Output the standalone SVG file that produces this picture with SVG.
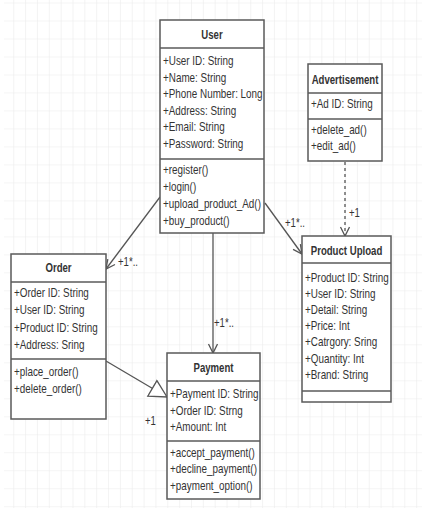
<svg xmlns="http://www.w3.org/2000/svg" width="445" height="508" viewBox="0 0 445 508">
<style>
.box{fill:#fff;stroke:#5a5a5a;stroke-width:1.5}
.sep{stroke:#5a5a5a;stroke-width:1.5}
.t{font-family:"Liberation Sans",Arial,sans-serif;font-size:13px;fill:#333}
.h{font-family:"Liberation Sans",Arial,sans-serif;font-size:13px;font-weight:bold;fill:#333;text-anchor:middle}
.c{stroke:#555;stroke-width:1.3;fill:none}
.lbl{font-family:"Liberation Sans",Arial,sans-serif;font-size:12px;fill:#333}
</style>
<defs>
<pattern id="grid" x="1.4" y="2.5" width="11.85" height="17.99" patternUnits="userSpaceOnUse">
<path d="M0,0 V17.99 M0,0 H11.85" stroke="#ececec" stroke-width="1.2" fill="none"/>
</pattern>
<marker id="open" markerWidth="12" markerHeight="12" refX="10" refY="5" orient="auto" markerUnits="userSpaceOnUse">
<path d="M1,0.5 L10,5 L1,9.5" fill="none" stroke="#555" stroke-width="1.3"/>
</marker>
<marker id="tri" markerWidth="20" markerHeight="22" refX="18" refY="10" orient="auto" markerUnits="userSpaceOnUse">
<path d="M1,1 L18,10 L1,19 Z" fill="#fff" stroke="#555" stroke-width="1.3"/>
</marker>
</defs>
<rect x="4" y="0" width="418" height="508" fill="url(#grid)"/>

<g id="connectors">
<line class="c" x1="160" y1="197" x2="106" y2="269" marker-end="url(#open)"/>
<line class="c" x1="265" y1="203" x2="302" y2="254" marker-end="url(#open)"/>
<line class="c" x1="213" y1="233" x2="213" y2="353" marker-end="url(#open)"/>
<line class="c" x1="345" y1="162" x2="345" y2="236" stroke-dasharray="3,3" marker-end="url(#open)"/>
<line class="c" x1="106" y1="361" x2="167" y2="397" marker-end="url(#tri)"/>
<g transform="translate(118,266) scale(0.8,1)"><text class="lbl">+1*..</text></g>
<g transform="translate(285,227) scale(0.8,1)"><text class="lbl">+1*..</text></g>
<g transform="translate(214,327) scale(0.8,1)"><text class="lbl">+1*..</text></g>
<g transform="translate(349,217) scale(0.8,1)"><text class="lbl">+1</text></g>
<g transform="translate(145,425) scale(0.8,1)"><text class="lbl">+1</text></g>
</g>

<g id="user">
<rect class="box" x="160" y="20" width="104" height="213"/>
<line class="sep" x1="160" y1="48" x2="264" y2="48"/>
<line class="sep" x1="160" y1="159" x2="264" y2="159"/>
<g transform="translate(212,39) scale(0.74,1)"><text class="h">User</text></g>
<g transform="translate(163,0) scale(0.76,1)">
<text class="t" y="65">+User ID: String</text>
<text class="t" y="81.6">+Name: String</text>
<text class="t" y="98.2">+Phone Number: Long</text>
<text class="t" y="114.8">+Address: String</text>
<text class="t" y="131.4">+Email: String</text>
<text class="t" y="148">+Password: String</text>
<text class="t" y="174">+register()</text>
<text class="t" y="191">+login()</text>
<text class="t" y="208">+upload_product_Ad()</text>
<text class="t" y="225">+buy_product()</text>
</g>
</g>

<g id="advertisement">
<rect class="box" x="308" y="64" width="74" height="97"/>
<line class="sep" x1="308" y1="93" x2="382" y2="93"/>
<line class="sep" x1="308" y1="119" x2="382" y2="119"/>
<g transform="translate(345,84) scale(0.74,1)"><text class="h">Advertisement</text></g>
<g transform="translate(311,0) scale(0.76,1)">
<text class="t" y="108">+Ad ID: String</text>
<text class="t" y="134">+delete_ad()</text>
<text class="t" y="150.5">+edit_ad()</text>
</g>
</g>

<g id="product-upload">
<rect class="box" x="302" y="236" width="89" height="166"/>
<line class="sep" x1="302" y1="263" x2="391" y2="263"/>
<line class="sep" x1="302" y1="391" x2="391" y2="391"/>
<g transform="translate(346.5,255) scale(0.74,1)"><text class="h">Product Upload</text></g>
<g transform="translate(305,0) scale(0.76,1)">
<text class="t" y="281.7">+Product ID: String</text>
<text class="t" y="297.9">+User ID: String</text>
<text class="t" y="314.1">+Detail: String</text>
<text class="t" y="330.3">+Price: Int</text>
<text class="t" y="346.5">+Catrgory: Sring</text>
<text class="t" y="362.7">+Quantity: Int</text>
<text class="t" y="379">+Brand: String</text>
</g>
</g>

<g id="order">
<rect class="box" x="11" y="254" width="95" height="165"/>
<line class="sep" x1="11" y1="282" x2="106" y2="282"/>
<line class="sep" x1="11" y1="359" x2="106" y2="359"/>
<g transform="translate(58.5,272) scale(0.74,1)"><text class="h">Order</text></g>
<g transform="translate(14,0) scale(0.76,1)">
<text class="t" y="297">+Order ID: String</text>
<text class="t" y="314.3">+User ID: String</text>
<text class="t" y="331.6">+Product ID: String</text>
<text class="t" y="349">+Address: Sring</text>
<text class="t" y="376.5">+place_order()</text>
<text class="t" y="393">+delete_order()</text>
</g>
</g>

<g id="payment">
<rect class="box" x="167" y="353" width="93" height="146"/>
<line class="sep" x1="167" y1="381" x2="260" y2="381"/>
<line class="sep" x1="167" y1="441" x2="260" y2="441"/>
<g transform="translate(213.5,372) scale(0.74,1)"><text class="h">Payment</text></g>
<g transform="translate(170,0) scale(0.76,1)">
<text class="t" y="398.3">+Payment ID: String</text>
<text class="t" y="415">+Order ID: Strng</text>
<text class="t" y="431.5">+Amount: Int</text>
<text class="t" y="457">+accept_payment()</text>
<text class="t" y="473.5">+decline_payment()</text>
<text class="t" y="490">+payment_option()</text>
</g>
</g>
</svg>
